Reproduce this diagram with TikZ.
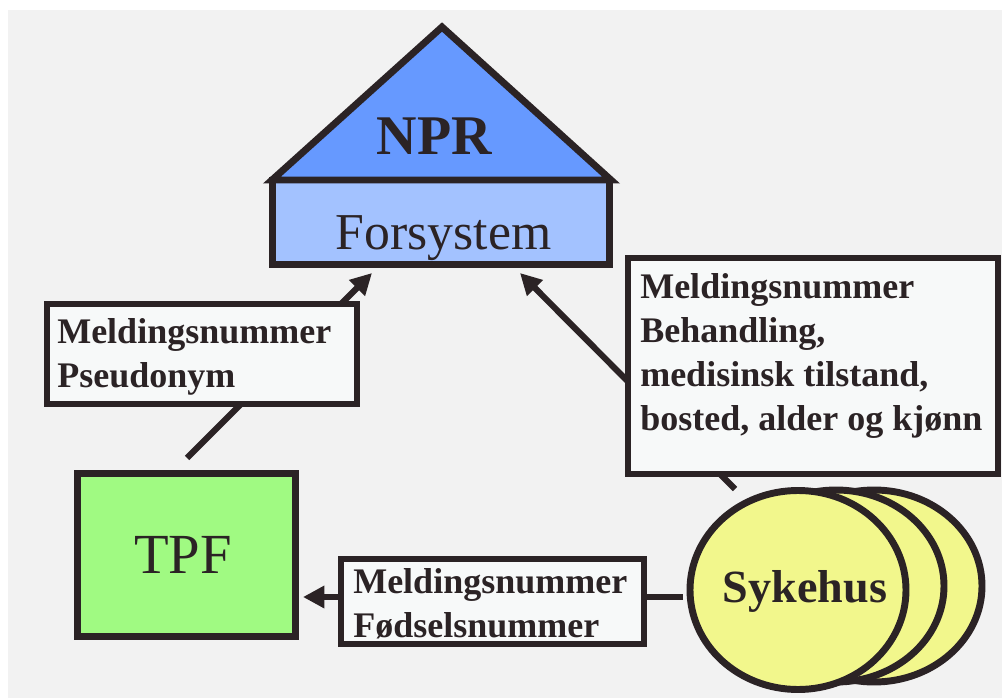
\documentclass[tikz,border=0pt]{standalone}
\usepackage{fontspec}
\setmainfont{Liberation Serif}
\usetikzlibrary{arrows.meta,shapes.geometric}
\definecolor{ink}{HTML}{2B2325}
\definecolor{bgc}{HTML}{F2F2F2}
\definecolor{roofc}{HTML}{6699FF}
\definecolor{forsc}{HTML}{A3C2FF}
\definecolor{tpfc}{HTML}{A0FA82}
\definecolor{sykc}{HTML}{F2F78C}
\definecolor{lblc}{HTML}{F7F9F9}
\tikzset{
  shapeline/.style={draw=ink, line width=5.2pt},
  boxnode/.style={shapeline, rectangle, inner sep=0pt},
  lblbox/.style={draw=ink, line width=4.6pt, fill=lblc, rectangle, inner sep=0pt},
  lbltext/.style={text=ink, anchor=base west, inner sep=0pt, align=left,
    font=\fontsize{27}{32.8}\selectfont\bfseries},
  bigtext/.style={text=ink, anchor=base, inner sep=0pt},
  conn/.style={draw=ink, line width=4.6pt},
  arr/.style={conn, -{Triangle[length=16pt,width=16pt]}},
  sykell/.style={shapeline, fill=sykc, ellipse, inner sep=0pt}
}
\begin{document}
\begin{tikzpicture}[x=0.75pt,y=-0.75pt]
\useasboundingbox (0,0) rectangle (1002,698);
\fill[bgc] (8,10) rectangle (1002,698);
% NPR house
\node[boxnode, fill=forsc, minimum width=253.1pt, minimum height=63.4pt] (fors) at (441,222.25) {};
\filldraw[shapeline, fill=roofc, line join=miter] (272,180) -- (442,27) -- (611,180) -- cycle;
\node[bigtext, font=\fontsize{42}{50}\selectfont\bfseries] (npr) at (434.5,155) {NPR};
\node[bigtext, font=\fontsize{38.8}{46}\selectfont] (forst) at (443.5,250) {Forsystem};
% TPF
\node[boxnode, fill=tpfc, minimum width=163.5pt, minimum height=122.25pt] (tpf) at (186.5,555) {};
\node[bigtext, font=\fontsize{42.5}{50}\selectfont] (tpft) at (183,573) {TPF};
% Sykehus
\node[sykell, minimum width=162pt, minimum height=144pt] (syk3) at (874,586) {};
\node[sykell, minimum width=162pt, minimum height=144pt] (syk2) at (836,586) {};
\node[sykell, minimum width=162pt, minimum height=149.25pt] (syk) at (798,590) {};
\node[bigtext, font=\fontsize{34.6}{40}\selectfont\bfseries] (sykt) at (805,602) {Sykehus};
% connector end points
\coordinate (aS) at (187,458);
\coordinate (aT) at (372,273);
\coordinate (cS) at (735,489);
\coordinate (cT) at (520,273);
\coordinate (bS) at (683,597);
\coordinate (bT) at (303,597);
\draw[arr] (aS) -- (aT);
\draw[arr] (cS) -- (cT);
\draw[arr] (bS) -- (bT);
% label boxes
\node[lblbox, minimum width=232.5pt, minimum height=75pt] (lblA) at (202,354) {};
\node[lbltext] (lblAt) at (57,387) {Meldingsnummer\\Pseudonym};
\node[lblbox, minimum width=277.5pt, minimum height=162pt] (lblC) at (813,366) {};
\node[lbltext] (lblCt) at (640,430) {Meldingsnummer\\Behandling,\\medisinsk tilstand,\\bosted, alder og kjønn};
\node[lblbox, minimum width=227.25pt, minimum height=63.75pt] (lblB) at (492.5,601.5) {};
\node[lbltext] (lblBt) at (353,637) {Meldingsnummer\\Fødselsnummer};
\end{tikzpicture}
\end{document}
